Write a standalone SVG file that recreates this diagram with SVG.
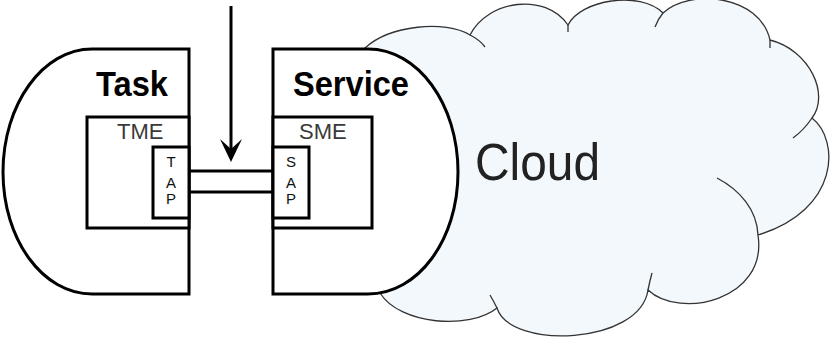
<svg xmlns="http://www.w3.org/2000/svg" width="831" height="339" viewBox="0 0 831 339">
<defs>
<style>
.cloud{fill:#f3f8fc;stroke:#333;stroke-width:1.3}
.tail{fill:none;stroke:#333;stroke-width:1.3}
.shape{fill:#fff;stroke:#000;stroke-width:3}
.box{fill:#fff;stroke:#000;stroke-width:3}
.wire{fill:none;stroke:#000;stroke-width:3}
.title{font-family:"Liberation Sans",Arial,sans-serif;font-weight:bold;font-size:35px;fill:#000}
.label{font-family:"Liberation Sans",Arial,sans-serif;font-size:22px;fill:#3a3a3a}
.ap{font-family:"Liberation Sans",Arial,sans-serif;font-size:15px;fill:#111;text-anchor:middle}
.cloudtxt{font-family:"Liberation Sans",Arial,sans-serif;font-size:52px;fill:#222}
</style>
</defs>
<rect width="831" height="339" fill="#fff"/>
<g id="cloud">
<path class="cloud" d="M365,48 C390,25 445,20 470,35 C488,0 545,-8 568,25 C580,0 640,-10 663,13 C690,-12 760,-5 770,40 C810,50 830,95 812,118 C840,140 840,210 758,235 C768,300 680,320 648,290 C640,345 510,350 497,308 C470,330 400,325 380,293 L360,200 L360,60 Z"/>
<path class="tail" d="M470,35 Q480,40 485,47 M568,25 L568,32 M663,13 Q658,19 655,27 M770,40 L770,48 M812,118 Q804,130 793,138 M758,235 C757,210 740,190 717,178 M648,290 Q650,280 652,273 M497,308 Q493,300 490,295"/>
<text class="cloudtxt" x="475" y="180" textLength="125" lengthAdjust="spacingAndGlyphs">Cloud</text>
</g>
<g id="task">
<path class="shape" d="M189,49 H92 C43,49 3,104 3,172 C3,240 43,294 92,294 H189 Z"/>
<text class="title" x="96" y="96" textLength="72" lengthAdjust="spacingAndGlyphs">Task</text>
</g>
<g id="tme">
<rect class="box" x="87" y="117" width="102" height="111"/>
<text class="label" x="117" y="139">TME</text>
</g>
<g id="tap">
<rect class="box" x="153" y="147" width="36" height="71"/>
<text class="ap" x="171" y="167">T</text>
<text class="ap" x="171" y="188">A</text>
<text class="ap" x="171" y="204">P</text>
</g>
<g id="service">
<path class="shape" d="M273,49 H368 C418,49 458,104 458,172 C458,240 418,294 368,294 H273 Z"/>
<text class="title" x="293" y="96" textLength="116" lengthAdjust="spacingAndGlyphs">Service</text>
</g>
<g id="sme">
<rect class="box" x="273" y="117" width="99" height="111"/>
<text class="label" x="299" y="139">SME</text>
</g>
<g id="sap">
<rect class="box" x="273" y="147" width="36" height="71"/>
<text class="ap" x="291" y="167">S</text>
<text class="ap" x="291" y="188">A</text>
<text class="ap" x="291" y="204">P</text>
</g>
<g id="connectors">
<line class="wire" x1="189" y1="171" x2="273" y2="171"/>
<line class="wire" x1="189" y1="192" x2="273" y2="192"/>
<line class="wire" x1="231" y1="6" x2="231" y2="152"/>
<path d="M231,162 L220,139 L231,149 L242,139 Z" fill="#000"/>
</g>
</svg>
